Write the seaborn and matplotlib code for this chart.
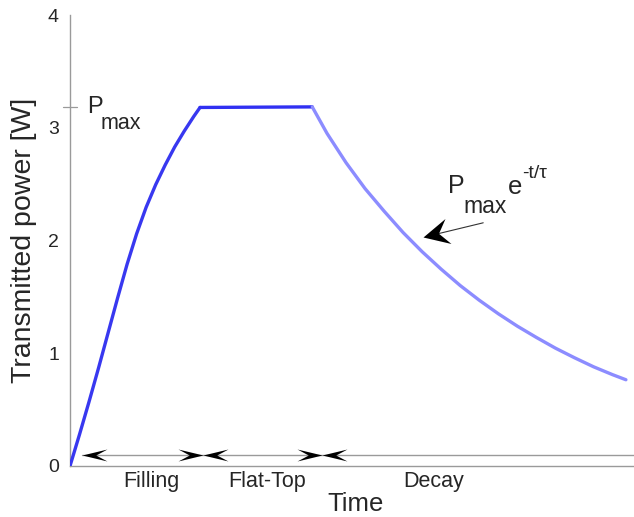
import numpy as np
import pandas as pd
import matplotlib
matplotlib.use("Agg")
import matplotlib.pyplot as plt
from matplotlib.path import Path
from matplotlib.markers import MarkerStyle
from matplotlib.transforms import Affine2D
import seaborn as sns

# ---- data ----
fill_t = [0.0, 0.1, 0.2, 0.3, 0.4, 0.5, 0.6, 0.7, 0.8, 0.9, 1.0, 1.1, 1.2, 1.3, 1.366]
fill_p = [0.0, 0.28, 0.57, 0.87, 1.18, 1.49, 1.79, 2.06, 2.295, 2.495, 2.67, 2.83, 2.97, 3.10, 3.18]
flat_t = [1.366, 2.545]
flat_p = [3.18, 3.185]
decay_t = [2.545, 2.7, 2.9, 3.1, 3.3, 3.5, 3.7, 3.9, 4.1, 4.3, 4.5, 4.7, 4.9, 5.1, 5.3, 5.5, 5.7, 5.84]
decay_p = [3.185, 2.95, 2.69, 2.46, 2.26, 2.07, 1.90, 1.745, 1.60, 1.47, 1.35, 1.24, 1.14, 1.045, 0.96, 0.88, 0.81, 0.765]
phases = ["Filling", "Flat-Top", "Decay"]
phase_label_t = [0.85, 2.075, 3.82]
p_max = 3.18
y_ticks = [0, 1, 2, 3, 4]
x_ticks = [0, 1, 2, 3, 4, 5]
boundary_t = [0.123, 1.397, 2.644]

df = pd.concat([
    pd.DataFrame({"t": fill_t, "P": fill_p, "phase": "Filling"}),
    pd.DataFrame({"t": flat_t, "P": flat_p, "phase": "Flat-Top"}),
    pd.DataFrame({"t": decay_t, "P": decay_p, "phase": "Decay"}),
], ignore_index=True)

sns.set_style("white")
plt.rcParams["font.family"] = ["Liberation Sans", "DejaVu Sans"]
plt.rcParams["text.color"] = "#262626"

fig = plt.figure(figsize=(6.34, 5.17), dpi=100)
ax = fig.add_axes([70 / 634, 51 / 517, 564 / 634, 451 / 517])

palette = {"Filling": "#3838f0", "Flat-Top": "#3030f2", "Decay": "#8c8cff"}
sns.lineplot(data=df, x="t", y="P", hue="phase", palette=palette, legend=False,
             sort=False, estimator=None, linewidth=2.4, ax=ax, zorder=3)

ax.set_xlim(0, 5.925)
ax.set_ylim(0, 4)
ax.set_yticks(y_ticks)
ax.set_xticks(x_ticks)
ax.set_xticklabels([])
ax.tick_params(axis="y", direction="in", length=4.3, width=0.8, color="#9a9a9a",
               labelsize=14, labelcolor="#262626", pad=8)
ax.tick_params(axis="x", direction="in", length=3.6, width=0.8, color="#9a9a9a")
for s in ["top", "right"]:
    ax.spines[s].set_visible(False)
for s in ["left", "bottom"]:
    ax.spines[s].set_color("#9a9a9a")
    ax.spines[s].set_linewidth(1.0)

ax.set_ylabel("Transmitted power [W]", fontsize=20.5, labelpad=8)
ax.set_xlabel("Time", fontsize=18.5, labelpad=15)
ax.xaxis.label.set_x(0.507)

# P_max tick across the axis
ax.axhline(p_max, xmin=-0.013, xmax=0.013, color="#9a9a9a", lw=0.9, clip_on=False)
ax.text(0.175, 3.133, "P", fontsize=17, ha="left", va="baseline")
ax.text(0.322, 2.99, "max", fontsize=15.5, ha="left", va="baseline")

# phase labels
for lab, tx in zip(phases, phase_label_t):
    ax.text(tx, -0.14, lab, fontsize=15.5, ha="center", va="center", clip_on=False)

# arrowhead markers
def head(L=1.0, hw=0.25, notch=0.6, angle=0.0):
    verts = [(0, 0), (-L, hw), (-notch * L, 0), (-L, -hw), (0, 0)]
    codes = [Path.MOVETO, Path.LINETO, Path.LINETO, Path.LINETO, Path.CLOSEPOLY]
    return MarkerStyle(Path(verts, codes), transform=Affine2D().rotate_deg(angle))

arrow_y = 0.097
ax.plot([boundary_t[0], 6.5], [arrow_y, arrow_y], color="#9a9a9a", lw=1.0, zorder=2)
right_head = head(hw=0.24, notch=0.55, angle=0)
left_head = head(hw=0.24, notch=0.55, angle=180)
for i, bt in enumerate(boundary_t):
    ax.plot([bt], [arrow_y], marker=left_head, markersize=36, color="black",
            markeredgewidth=0, linestyle="none", zorder=4)
    if i > 0:
        ax.plot([bt], [arrow_y], marker=right_head, markersize=36, color="black",
                markeredgewidth=0, linestyle="none", zorder=4)

# exponential annotation
tail = (4.341, 2.157)
tip = (3.711, 2.029)
ax.plot([tail[0], tip[0] + 0.15], [tail[1], tip[1] + 0.03], color="#333333", lw=0.8, zorder=4)
ax.plot([tip[0]], [tip[1]], marker=head(hw=0.5, notch=0.62, angle=193.5), markersize=37,
        color="black", markeredgewidth=0, linestyle="none", zorder=5)
ax.text(3.97, 2.425, "P", fontsize=18, ha="left", va="baseline")
ax.text(4.128, 2.248, "max", fontsize=16.5, ha="left", va="baseline")
ax.text(4.60, 2.416, "e", fontsize=18.5, ha="left", va="baseline")
ax.text(4.75, 2.55, "-t/\u03c4", fontsize=14, ha="left", va="baseline")

fig.savefig("out.png", dpi=100)
